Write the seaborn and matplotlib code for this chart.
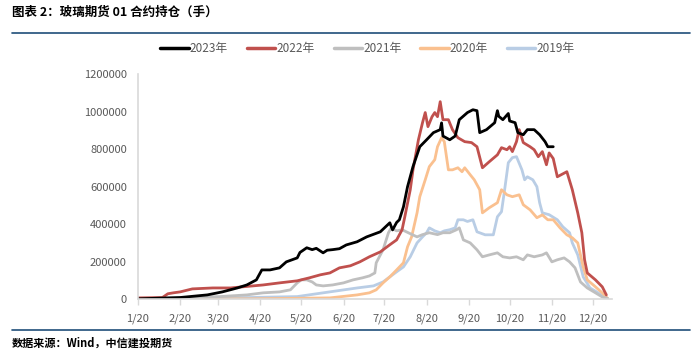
import pandas as pd
import matplotlib
matplotlib.use("Agg")
import matplotlib.pyplot as plt
import matplotlib.dates as mdates
from matplotlib.lines import Line2D
import seaborn as sns

# 各年份01合约持仓（手），日期为月-日
d2023 = ["01-20", "02-20", "03-12", "03-23", "04-03", "04-10", "04-17", "04-21", "04-27", "05-04",
         "05-09", "05-17", "05-19", "05-24", "05-28", "05-31", "06-05", "06-08", "06-12", "06-17",
         "06-22", "06-30", "07-07", "07-17", "07-24", "07-26", "07-29", "07-31", "08-03", "08-06",
         "08-10", "08-15", "08-20", "08-25", "08-30", "08-31", "09-01", "09-06", "09-10", "09-13",
         "09-19", "09-23", "09-26", "09-28", "10-03", "10-09", "10-11", "10-12", "10-15", "10-19",
         "10-20", "10-24", "10-26", "10-30", "11-02", "11-07", "11-11", "11-15", "11-17", "11-21"]
v2023 = [3000, 10000, 24000, 40000, 61000, 77000, 104000, 157000, 157000, 168000,
         200000, 221000, 250000, 275000, 265000, 272000, 248000, 262000, 265000, 270000,
         290000, 307000, 333000, 360000, 408000, 370000, 410000, 424000, 493000, 600000,
         707000, 813000, 850000, 888000, 904000, 940000, 870000, 850000, 870000, 957000,
         995000, 1010000, 1005000, 888000, 904000, 941000, 1005000, 975000, 957000, 990000,
         950000, 941000, 888000, 877000, 904000, 904000, 877000, 840000, 813000, 813000]

d2022 = ["01-20", "02-07", "02-11", "02-15", "02-20", "03-01", "03-16", "03-29", "04-07", "04-22",
         "05-04", "05-17", "05-26", "06-03", "06-10", "06-17", "06-25", "07-02", "07-09", "07-17",
         "07-24", "07-29", "08-02", "08-04", "08-08", "08-10", "08-14", "08-17", "08-19", "08-21",
         "08-24", "08-26", "08-28", "08-30", "09-01", "09-05", "09-08", "09-12", "09-17", "09-22",
         "09-26", "09-30", "10-05", "10-11", "10-14", "10-18", "10-20", "10-22", "10-25", "10-27",
         "10-30", "11-04", "11-07", "11-10", "11-13", "11-16", "11-18", "11-21", "11-24", "12-01",
         "12-05", "12-09", "12-12", "12-14", "12-16", "12-22", "12-27", "12-30"]
v2022 = [8000, 10000, 30000, 35000, 40000, 56000, 61000, 61000, 67000, 77000,
         88000, 99000, 115000, 131000, 141000, 168000, 179000, 200000, 227000, 253000,
         291000, 317000, 371000, 440000, 584000, 690000, 850000, 941000, 995000, 920000,
         973000, 995000, 973000, 1053000, 957000, 957000, 904000, 861000, 840000, 835000,
         813000, 701000, 733000, 770000, 808000, 797000, 813000, 787000, 840000, 904000,
         835000, 813000, 797000, 760000, 787000, 717000, 780000, 750000, 653000, 680000,
         584000, 461000, 355000, 211000, 141000, 104000, 67000, 24000]

d2021 = ["01-20", "02-20", "03-21", "04-10", "04-22", "05-04", "05-12", "05-17", "05-20", "05-24",
         "05-28", "05-31", "06-05", "06-12", "06-20", "06-27", "07-04", "07-09", "07-13", "07-14",
         "07-19", "07-23", "07-25", "07-29", "08-02", "08-08", "08-13", "08-17", "08-22", "08-28",
         "09-01", "09-06", "09-11", "09-13", "09-16", "09-21", "09-26", "09-30", "10-05", "10-11",
         "10-15", "10-20", "10-25", "10-30", "11-02", "11-07", "11-13", "11-16", "11-20", "11-24",
         "11-29", "12-03", "12-07", "12-11", "12-16", "12-22", "12-27", "12-31"]
v2021 = [3000, 8000, 15000, 24000, 35000, 40000, 51000, 88000, 104000, 104000,
         93000, 77000, 72000, 77000, 88000, 104000, 115000, 125000, 141000, 195000,
         264000, 355000, 381000, 365000, 371000, 350000, 333000, 345000, 355000, 345000,
         355000, 355000, 371000, 381000, 317000, 301000, 264000, 227000, 237000, 248000,
         227000, 221000, 227000, 211000, 237000, 227000, 237000, 248000, 200000, 211000,
         221000, 200000, 168000, 93000, 61000, 35000, 13000, 5000]

d2020 = ["01-20", "04-12", "06-10", "06-30", "07-09", "07-14", "07-19", "07-24", "07-29", "08-03",
         "08-06", "08-09", "08-13", "08-15", "08-19", "08-22", "08-26", "08-28", "08-31", "09-02",
         "09-05", "09-08", "09-12", "09-15", "09-17", "09-21", "09-24", "09-28", "09-30", "10-05",
         "10-11", "10-14", "10-18", "10-22", "10-27", "10-30", "11-04", "11-09", "11-13", "11-17",
         "11-21", "11-26", "12-01", "12-05", "12-09", "12-13", "12-16", "12-22", "12-27", "12-31"]
v2020 = [2000, 3000, 8000, 24000, 35000, 51000, 88000, 120000, 157000, 195000,
         280000, 333000, 461000, 547000, 637000, 707000, 744000, 813000, 861000, 840000,
         690000, 690000, 701000, 680000, 701000, 664000, 637000, 584000, 461000, 488000,
         515000, 584000, 557000, 547000, 557000, 504000, 477000, 435000, 450000, 424000,
         424000, 381000, 344000, 328000, 301000, 173000, 104000, 67000, 35000, 5000]

d2019 = ["01-20", "04-12", "05-17", "06-05", "06-30", "07-12", "07-19", "07-24", "07-29", "08-03",
         "08-08", "08-13", "08-17", "08-20", "08-22", "08-26", "08-30", "09-02", "09-06", "09-10",
         "09-12", "09-16", "09-19", "09-23", "09-26", "10-02", "10-08", "10-11", "10-14", "10-16",
         "10-19", "10-22", "10-25", "10-29", "10-31", "11-02", "11-06", "11-09", "11-11", "11-13",
         "11-18", "11-24", "11-28", "12-03", "12-05", "12-09", "12-13", "12-18", "12-24", "12-30"]
v2019 = [5000, 10000, 15000, 35000, 61000, 72000, 93000, 120000, 147000, 173000,
         227000, 301000, 333000, 355000, 381000, 365000, 355000, 365000, 371000, 381000,
         424000, 424000, 415000, 424000, 360000, 344000, 344000, 440000, 467000, 568000,
         728000, 755000, 760000, 690000, 637000, 653000, 637000, 600000, 515000, 461000,
         451000, 424000, 387000, 355000, 301000, 237000, 120000, 61000, 35000, 5000]

years = ["2023年", "2022年", "2021年", "2020年", "2019年"]
colors = ["#000000", "#C0504D", "#BFBFBF", "#FAC08F", "#B9CDE5"]
series = [(d2023, v2023), (d2022, v2022), (d2021, v2021), (d2020, v2020), (d2019, v2019)]

frames = []
for name, (d, v) in zip(years, series):
    frames.append(pd.DataFrame({"date": pd.to_datetime(["2001-" + s for s in d]),
                                "持仓": v, "年份": name}))
df = pd.concat(frames, ignore_index=True)

sns.set_style("white")
plt.rcParams["font.family"] = ["Noto Sans CJK SC", "DejaVu Sans"]

fig = plt.figure(figsize=(7, 3.51), dpi=100)
ax = fig.add_axes([0.197, 0.147, 0.677, 0.642])

# 倒序绘制，使2023年在最上层
sns.lineplot(data=df, x="date", y="持仓", hue="年份", hue_order=years[::-1],
             palette=dict(zip(years, colors)), linewidth=2.0, legend=False, ax=ax)

ax.set_xlim(pd.Timestamp("2001-01-20"), pd.Timestamp("2002-01-03"))
ax.set_ylim(0, 1200000)
ax.set_yticks(range(0, 1200001, 200000))
ax.yaxis.set_major_formatter(matplotlib.ticker.FuncFormatter(lambda v, p: f"{int(v)}"))
ticks = [pd.Timestamp(f"2001-{m:02d}-20") for m in range(1, 13)]
ax.set_xticks(ticks)
ax.set_xticklabels([f"{m}/20" for m in range(1, 13)])
ax.set_xlabel("")
ax.set_ylabel("")

for s in ["top", "right"]:
    ax.spines[s].set_visible(False)
for s in ["left", "bottom"]:
    ax.spines[s].set_color("#D9D9D9")
    ax.spines[s].set_linewidth(1.2)
ax.tick_params(axis="x", colors="#595959", labelsize=8, length=4, width=1,
               color="#D9D9D9", direction="out", pad=6, bottom=True)
ax.tick_params(axis="y", colors="#595959", labelsize=8, length=0, pad=8)

handles = [Line2D([0], [0], color=c, lw=2.5) for c in colors]
leg = fig.legend(handles, years, loc="center", bbox_to_anchor=(0.525, 0.862), ncol=5,
                 frameon=False, fontsize=8.5, handlelength=2.4, handletextpad=0.1,
                 columnspacing=1.6)
for t in leg.get_texts():
    t.set_color("#595959")

fig.text(0.017, 0.965, "图表 2：玻璃期货 01 合约持仓（手）", fontsize=9, fontweight="bold",
         va="center", ha="left", color="#000000")
fig.add_artist(Line2D([0.017, 0.986], [0.906, 0.906], color="#1F4E79", lw=1.2))
fig.add_artist(Line2D([0.017, 0.986], [0.06, 0.06], color="#1F4E79", lw=1.2))
fig.text(0.017, 0.022, "数据来源：Wind，中信建投期货", fontsize=8, fontweight="bold",
         style="italic", va="center", ha="left", color="#000000")

fig.savefig("out.png", dpi=100)
